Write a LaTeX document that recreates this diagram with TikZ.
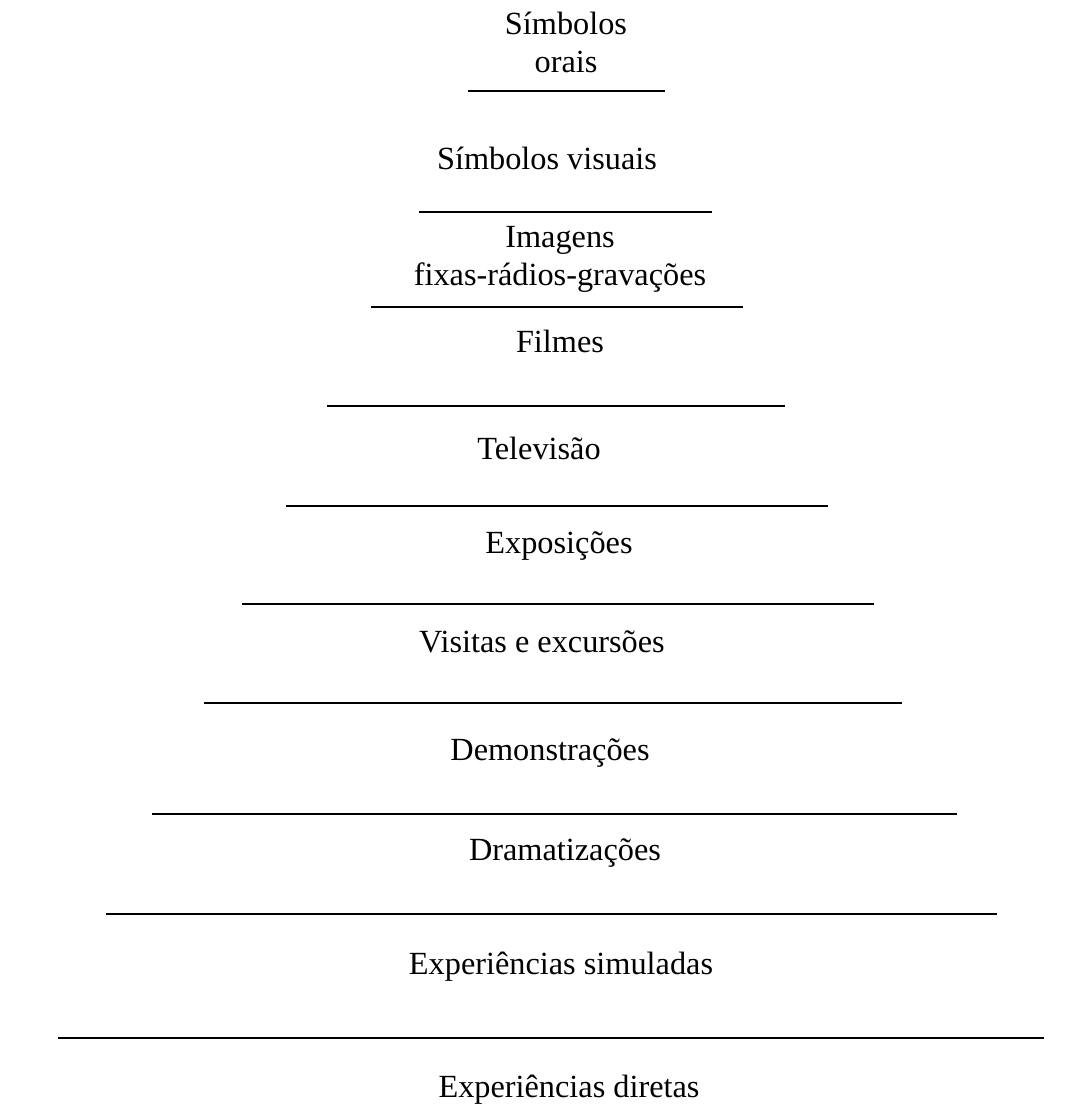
\documentclass[tikz,border=0pt]{standalone}
\usepackage{fontspec}
\setmainfont{Liberation Serif}
\usepackage{tikz}

\begin{document}
\begin{tikzpicture}[x=1pt, y=-1pt, line cap=butt,
        every node/.style={font=\fontsize{32.3}{38}\selectfont, align=center, inner sep=0pt},
        degrau/.style={line width=2.8pt}]

    \useasboundingbox (0,0) rectangle (1080,1117);

    % labels
    \node (orais)     at (566,42)                {Símbolos\\orais};
    \node (visuais)   [anchor=base] at (547,169) {Símbolos visuais};
    \node (imagens)   at (560,259)               {Imagens\\fixas-rádios-gravações};
    \node (filmes)    [anchor=base] at (560,352) {Filmes};
    \node (tv)        [anchor=base] at (539,459) {Televisão};
    \node (expo)      [anchor=base] at (559,553) {Exposições};
    \node (visitas)   [anchor=base] at (542,652) {Visitas e excursões};
    \node (demo)      [anchor=base] at (550,760) {Demonstrações};
    \node (drama)     [anchor=base] at (565,860) {Dramatizações};
    \node (simuladas) [anchor=base] at (561,974) {Experiências simuladas};
    \node (diretas)   [anchor=base] at (569,1097) {Experiências diretas};

    % steps
    \coordinate (0) at (468,91);   \coordinate (1) at (665,91);
    \coordinate (2) at (419,212);  \coordinate (3) at (712,212);
    \coordinate (4) at (371,307);  \coordinate (5) at (743,307);
    \coordinate (6) at (327,406);  \coordinate (7) at (785,406);
    \coordinate (8) at (286,506);  \coordinate (9) at (828,506);
    \coordinate (10) at (242,604); \coordinate (11) at (874,604);
    \coordinate (12) at (204,703); \coordinate (13) at (902,703);
    \coordinate (14) at (152,814); \coordinate (15) at (957,814);
    \coordinate (16) at (106,914); \coordinate (17) at (997,914);
    \coordinate (18) at (58,1038); \coordinate (19) at (1044,1038);

    \draw[degrau] (0)--(1);
    \draw[degrau] (2)--(3);
    \draw[degrau] (4)--(5);
    \draw[degrau] (6)--(7);
    \draw[degrau] (8)--(9);
    \draw[degrau] (10)--(11);
    \draw[degrau] (12)--(13);
    \draw[degrau] (14)--(15);
    \draw[degrau] (16)--(17);
    \draw[degrau] (18)--(19);

\end{tikzpicture}
\end{document}
